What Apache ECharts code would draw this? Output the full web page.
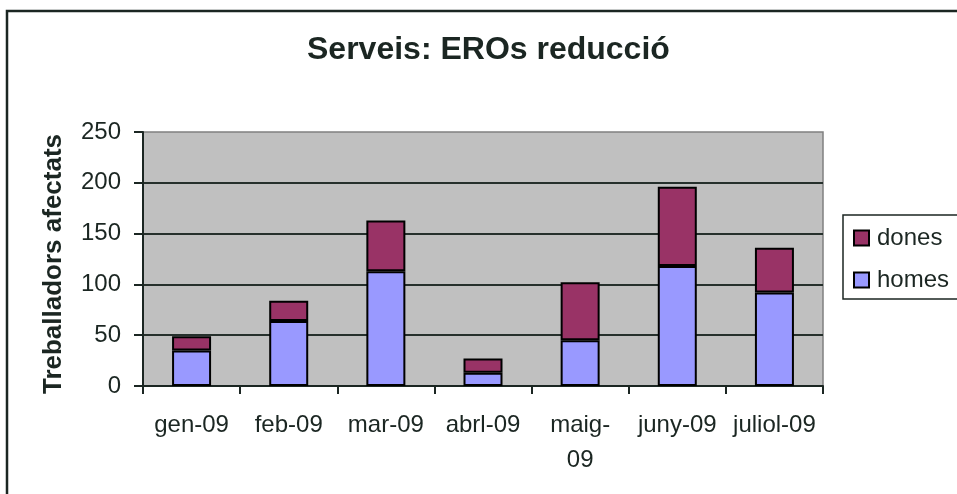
<!DOCTYPE html>
<html>
<head>
<meta charset="utf-8">
<title>Serveis: EROs reducció</title>
<script src="https://cdn.jsdelivr.net/npm/echarts@6/dist/echarts.min.js"></script>
<style>
  html, body { margin: 0; padding: 0; background: #fff; }
  #myChart { width: 957px; height: 494px; }
</style>
</head>
<body>
<div id="myChart"></div>
<script>
  // dades del gràfic
  let mesos = ['gen-09', 'feb-09', 'mar-09', 'abrl-09', 'maig-09', 'juny-09', 'juliol-09']
  let homes = [35, 64, 113, 13, 45, 118, 92]
  let dones = [14, 20, 50, 14, 57, 78, 44]
  let yTicks = [0, 50, 100, 150, 200, 250]

  let textColor = '#1b2622'
  let font = 'Liberation Sans, Arial, sans-serif'

  let option = {
    animation: false,
    backgroundColor: '#fff',
    textStyle: { fontFamily: font, color: textColor },
    title: {
      text: 'Serveis: EROs reducció',
      left: 307,
      top: 34,
      padding: 0,
      textStyle: { fontFamily: font, fontSize: 32, fontWeight: 'bold', color: textColor }
    },
    legend: {
      orient: 'vertical',
      left: 843,
      top: 215,
      data: ['dones', 'homes'],
      icon: 'rect',
      itemWidth: 15,
      itemHeight: 15,
      itemGap: 18,
      padding: [11, 12, 7, 10],
      borderColor: textColor,
      borderWidth: 1.5,
      textStyle: { fontFamily: font, fontSize: 24, color: textColor, lineHeight: 24, padding: [0, 0, 0, 3] }
    },
    // marc exterior
    graphic: [{
      type: 'rect',
      shape: { x: 7, y: 11, width: 1000, height: 600 },
      style: { fill: 'none', stroke: textColor, lineWidth: 2.5 },
      silent: true
    }],
    grid: {
      left: 143,
      right: 134,
      top: 132,
      bottom: 108,
      show: true,
      backgroundColor: '#c0c0c0',
      borderColor: '#808080',
      borderWidth: 1.5
    },
    xAxis: {
      type: 'category',
      data: mesos,
      axisLine: { lineStyle: { color: textColor, width: 2 } },
      axisTick: { show: true, length: 8, lineStyle: { color: textColor, width: 2 } },
      axisLabel: {
        fontFamily: font,
        fontSize: 24,
        color: textColor,
        margin: 22,
        lineHeight: 35,
        interval: 0,
        formatter: function (v) { return v === 'maig-09' ? 'maig-\n09' : v }
      }
    },
    yAxis: {
      type: 'value',
      min: yTicks[0],
      max: yTicks[yTicks.length - 1],
      interval: 50,
      name: 'Treballadors afectats',
      nameLocation: 'middle',
      nameGap: 76,
      nameTextStyle: { fontFamily: font, fontSize: 26, fontWeight: 'bold', color: textColor, padding: [0, 10, 0, 0] },
      axisLine: { show: true, lineStyle: { color: textColor, width: 2 } },
      axisTick: { show: true, length: 9, lineStyle: { color: textColor, width: 2 } },
      axisLabel: { fontFamily: font, fontSize: 24, color: textColor, margin: 22 },
      splitLine: { show: true, showMaxLine: false, lineStyle: { color: '#26302c', width: 2 } }
    },
    series: [
      {
        name: 'homes',
        type: 'bar',
        stack: 'total',
        barWidth: 39,
        data: homes,
        itemStyle: { color: '#9999ff', borderColor: '#000', borderWidth: 2 }
      },
      {
        name: 'dones',
        type: 'bar',
        stack: 'total',
        barWidth: 39,
        data: dones,
        itemStyle: { color: '#993366', borderColor: '#000', borderWidth: 2 }
      }
    ]
  }

  let myChart = echarts.init(document.getElementById('myChart'))
  myChart.setOption(option)
</script>
</body>
</html>
